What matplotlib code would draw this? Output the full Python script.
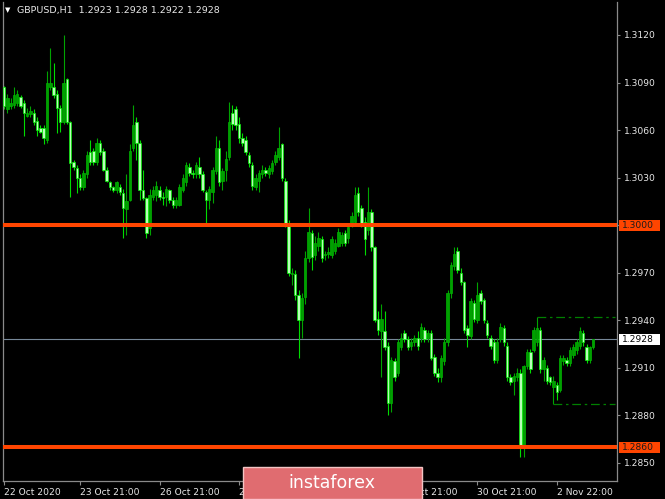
import numpy as np
import matplotlib
matplotlib.use('Agg')
import matplotlib.pyplot as plt
from matplotlib.patches import Rectangle
from matplotlib.transforms import blended_transform_factory

# ---------------- data (GBPUSD H1) ----------------
open_ = [1.3087, 1.3073, 1.3075, 1.3076, 1.3077, 1.3081, 1.3077, 1.3069, 1.3070, 1.3071,
         1.3066, 1.3061, 1.3061, 1.3054, 1.3087, 1.3087, 1.3083, 1.3074, 1.3065, 1.3092,
         1.3065, 1.3040, 1.3036, 1.3030, 1.3024, 1.3032, 1.3046, 1.3047, 1.3040, 1.3052,
         1.3047, 1.3035, 1.3027, 1.3024, 1.3022, 1.3024, 1.3020, 1.3010, 1.3016, 1.3049,
         1.3065, 1.3052, 1.3022, 1.3017, 1.2998, 1.3018, 1.3019, 1.3022, 1.3018, 1.3018,
         1.3022, 1.3016, 1.3013, 1.3013, 1.3022, 1.3027, 1.3037, 1.3033, 1.3032, 1.3037,
         1.3032, 1.3021, 1.3016, 1.3021, 1.3034, 1.3049, 1.3028, 1.3035, 1.3043, 1.3071,
         1.3073, 1.3064, 1.3055, 1.3054, 1.3044, 1.3038, 1.3024, 1.3028, 1.3032, 1.3035,
         1.3032, 1.3034, 1.3040, 1.3043, 1.3051, 1.3028, 1.3001, 1.2969, 1.2969, 1.2956,
         1.2940, 1.2955, 1.2979, 1.2995, 1.2981, 1.2987, 1.2991, 1.2981, 1.2982, 1.2981,
         1.2984, 1.2987, 1.2989, 1.2995, 1.2992, 1.3001, 1.3002, 1.3020, 1.3011, 1.3002,
         1.2997, 1.3008, 1.2986, 1.2941, 1.2933, 1.2933, 1.2924, 1.2888, 1.2914, 1.2907,
         1.2923, 1.2932, 1.2928, 1.2924, 1.2926, 1.2929, 1.2929, 1.2934, 1.2929, 1.2932,
         1.2917, 1.2907, 1.2904, 1.2914, 1.2926, 1.2957, 1.2974, 1.2984, 1.2970, 1.2964,
         1.2935, 1.2930, 1.2951, 1.2940, 1.2957, 1.2953, 1.2938, 1.2929, 1.2926, 1.2915,
         1.2928, 1.2935, 1.2924, 1.2904, 1.2902, 1.2904, 1.2907, 1.2860, 1.2911, 1.2920,
         1.2921, 1.2926, 1.2934, 1.2909, 1.2910, 1.2904, 1.2898, 1.2899, 1.2896, 1.2914,
         1.2915, 1.2913, 1.2918, 1.2921, 1.2924, 1.2932, 1.2923, 1.2915, 1.2923]

high = [1.3088, 1.3083, 1.3080, 1.3087, 1.3085, 1.3082, 1.3079, 1.3074, 1.3075, 1.3073,
        1.3068, 1.3063, 1.3063, 1.3097, 1.3112, 1.3102, 1.3085, 1.3076, 1.3120, 1.3093,
        1.3066, 1.3041, 1.3038, 1.3032, 1.3035, 1.3047, 1.3054, 1.3049, 1.3055, 1.3054,
        1.3049, 1.3037, 1.3028, 1.3025, 1.3028, 1.3026, 1.3023, 1.3032, 1.3051, 1.3076,
        1.3068, 1.3054, 1.3035, 1.3018, 1.3023, 1.3025, 1.3028, 1.3025, 1.3021, 1.3025,
        1.3023, 1.3018, 1.3018, 1.3026, 1.3032, 1.3040, 1.3039, 1.3035, 1.3040, 1.3043,
        1.3034, 1.3022, 1.3025, 1.3037, 1.3056, 1.3054, 1.3036, 1.3047, 1.3078, 1.3076,
        1.3075, 1.3068, 1.3058, 1.3056, 1.3046, 1.3040, 1.3032, 1.3035, 1.3038, 1.3037,
        1.3038, 1.3041, 1.3047, 1.3062, 1.3052, 1.3030, 1.3003, 1.2973, 1.2972, 1.2959,
        1.2957, 1.2984, 1.3011, 1.2997, 1.2993, 1.2996, 1.2993, 1.2984, 1.2986, 1.2993,
        1.2991, 1.2998, 1.2996, 1.2997, 1.3001, 1.3008, 1.3024, 1.3024, 1.3013, 1.3005,
        1.3024, 1.3010, 1.2987, 1.2946, 1.2950, 1.2946, 1.2926, 1.2917, 1.2916, 1.2928,
        1.2932, 1.2934, 1.2930, 1.2929, 1.2931, 1.2933, 1.2938, 1.2936, 1.2934, 1.2934,
        1.2919, 1.2910, 1.2918, 1.2929, 1.2959, 1.2977, 1.2986, 1.2986, 1.2973, 1.2965,
        1.2937, 1.2954, 1.2953, 1.2964, 1.2959, 1.2954, 1.2940, 1.2931, 1.2928, 1.2929,
        1.2938, 1.2937, 1.2926, 1.2906, 1.2907, 1.2910, 1.2909, 1.2912, 1.2922, 1.2922,
        1.2936, 1.2942, 1.2936, 1.2917, 1.2912, 1.2905, 1.2905, 1.2901, 1.2918, 1.2918,
        1.2917, 1.2923, 1.2925, 1.2928, 1.2936, 1.2934, 1.2925, 1.2924, 1.2928]

low = [1.3073, 1.3071, 1.3073, 1.3074, 1.3075, 1.3074, 1.3056, 1.3068, 1.3068, 1.3063,
       1.3056, 1.3058, 1.3051, 1.3052, 1.3085, 1.3080, 1.3058, 1.3059, 1.3064, 1.3064,
       1.3018, 1.3035, 1.3020, 1.3022, 1.3022, 1.3030, 1.3038, 1.3038, 1.3038, 1.3044,
       1.3034, 1.3027, 1.3022, 1.3021, 1.3020, 1.3019, 1.2992, 1.2994, 1.3015, 1.3047,
       1.3041, 1.3016, 1.3016, 1.2992, 1.2994, 1.3016, 1.3015, 1.3016, 1.3013, 1.3012,
       1.3014, 1.3011, 1.3011, 1.3012, 1.3021, 1.3025, 1.3031, 1.3030, 1.3030, 1.3030,
       1.3021, 1.3001, 1.3010, 1.3014, 1.3032, 1.3025, 1.3022, 1.3028, 1.3041, 1.3060,
       1.3060, 1.3052, 1.3050, 1.3044, 1.3037, 1.3022, 1.3022, 1.3021, 1.3030, 1.3031,
       1.3030, 1.3032, 1.3038, 1.3041, 1.3028, 1.2999, 1.2968, 1.2962, 1.2953, 1.2916,
       1.2929, 1.2950, 1.2977, 1.2972, 1.2978, 1.2984, 1.2977, 1.2978, 1.2979, 1.2979,
       1.2982, 1.2986, 1.2987, 1.2987, 1.2989, 1.2999, 1.3001, 1.3006, 1.2999, 1.2981,
       1.2994, 1.2984, 1.2939, 1.2931, 1.2904, 1.2921, 1.2880, 1.2882, 1.2902, 1.2905,
       1.2921, 1.2926, 1.2921, 1.2921, 1.2924, 1.2921, 1.2926, 1.2926, 1.2926, 1.2915,
       1.2905, 1.2901, 1.2901, 1.2912, 1.2924, 1.2954, 1.2972, 1.2970, 1.2962, 1.2932,
       1.2923, 1.2928, 1.2939, 1.2938, 1.2950, 1.2938, 1.2929, 1.2922, 1.2913, 1.2913,
       1.2926, 1.2924, 1.2902, 1.2899, 1.2893, 1.2902, 1.2854, 1.2854, 1.2909, 1.2907,
       1.2920, 1.2924, 1.2907, 1.2902, 1.2900, 1.2899, 1.2887, 1.2890, 1.2895, 1.2912,
       1.2911, 1.2911, 1.2916, 1.2919, 1.2922, 1.2924, 1.2913, 1.2913, 1.2922]

close = [1.3075, 1.3080, 1.3077, 1.3082, 1.3083, 1.3075, 1.3071, 1.3071, 1.3072, 1.3065,
         1.3060, 1.3059, 1.3055, 1.3090, 1.3090, 1.3082, 1.3074, 1.3065, 1.3090, 1.3065,
         1.3039, 1.3037, 1.3030, 1.3024, 1.3033, 1.3044, 1.3040, 1.3040, 1.3052, 1.3046,
         1.3035, 1.3028, 1.3024, 1.3022, 1.3027, 1.3021, 1.3011, 1.3015, 1.3047, 1.3063,
         1.3052, 1.3022, 1.3017, 1.2995, 1.3019, 1.3022, 1.3025, 1.3018, 1.3017, 1.3023,
         1.3016, 1.3013, 1.3016, 1.3024, 1.3030, 1.3038, 1.3033, 1.3032, 1.3038, 1.3032,
         1.3022, 1.3016, 1.3023, 1.3035, 1.3049, 1.3027, 1.3034, 1.3042, 1.3065, 1.3064,
         1.3063, 1.3055, 1.3052, 1.3046, 1.3039, 1.3025, 1.3030, 1.3033, 1.3035, 1.3033,
         1.3036, 1.3039, 1.3044, 1.3049, 1.3030, 1.3001, 1.2970, 1.2970, 1.2956, 1.2940,
         1.2954, 1.2979, 1.2996, 1.2980, 1.2989, 1.2992, 1.2979, 1.2982, 1.2983, 1.2991,
         1.2989, 1.2996, 1.2994, 1.2989, 1.2999, 1.3006, 1.3019, 1.3008, 1.3001, 1.2991,
         1.3008, 1.2986, 1.2940, 1.2934, 1.2941, 1.2923, 1.2888, 1.2915, 1.2904, 1.2926,
         1.2929, 1.2928, 1.2923, 1.2926, 1.2929, 1.2924, 1.2936, 1.2928, 1.2932, 1.2916,
         1.2907, 1.2904, 1.2916, 1.2926, 1.2957, 1.2975, 1.2982, 1.2972, 1.2964, 1.2934,
         1.2931, 1.2952, 1.2941, 1.2956, 1.2952, 1.2940, 1.2931, 1.2924, 1.2915, 1.2926,
         1.2936, 1.2926, 1.2904, 1.2901, 1.2905, 1.2907, 1.2860, 1.2911, 1.2920, 1.2909,
         1.2934, 1.2935, 1.2909, 1.2915, 1.2902, 1.2901, 1.2902, 1.2895, 1.2916, 1.2916,
         1.2913, 1.2921, 1.2923, 1.2926, 1.2933, 1.2926, 1.2915, 1.2923, 1.2928]

title_text = "GBPUSD,H1  1.2923 1.2928 1.2922 1.2928"
level_lines = [1.3000, 1.2860]
bid_price = 1.2928
range_high, range_high_start = 1.2942, 161
range_low, range_low_start = 1.2887, 166
ytick_values = [1.2850, 1.2880, 1.2910, 1.2940, 1.2970, 1.3000, 1.3030, 1.3060, 1.3090, 1.3120]
xtick_bars = [0, 23, 47, 71, 95, 119, 143, 167]
xtick_labels = ["22 Oct 2020", "23 Oct 21:00", "26 Oct 21:00", "27 Oct 21:00",
                "28 Oct 21:00", "29 Oct 21:00", "30 Oct 21:00", "2 Nov 22:00"]
watermark = "instaforex"

# ---------------- figure ----------------
W, H = 665, 499
fig = plt.figure(figsize=(W / 100, H / 100), dpi=100, facecolor='black')
L, R, T, B = 3, 617, 2, 481
ax = fig.add_axes([L / W, 1 - B / H, (R - L) / W, (B - T) / H])
ax.set_facecolor('black')
ymin, ymax = 1.28386, 1.31408
ax.set_xlim(-0.3, 185.2)
ax.set_ylim(ymin, ymax)
px = (ymax - ymin) / (B - T)

o = np.array(open_); c = np.array(close); h = np.array(high); l = np.array(low)
x = np.arange(len(c))
bull = c >= o
wick_cols = np.where(bull, '#00a400', '#00dc00')
ax.vlines(x, l, h, colors=wick_cols, lw=0.8, zorder=2)
bottoms = np.minimum(o, c)
heights = np.maximum(np.abs(c - o), 0.6 * px)
ax.bar(x[bull], heights[bull], bottom=bottoms[bull], width=0.74,
       color='#00a000', edgecolor='#00b400', linewidth=0.5, zorder=3)
ax.bar(x[~bull], heights[~bull], bottom=bottoms[~bull], width=0.74,
       color='#b8ffb8', edgecolor='#00ee00', linewidth=0.5, zorder=3)

# lines
ax.axhline(bid_price, color='#778899', lw=0.8, zorder=1)
for lv in level_lines:
    ax.axhline(lv, color='#ff4500', lw=2.9, zorder=6)
ax.hlines(range_high, range_high_start, 184.6, colors='#008000', lw=0.9,
          linestyles=(0, (7, 3, 2, 3)), zorder=4)
ax.hlines(range_low, range_low_start, 184.6, colors='#008000', lw=0.9,
          linestyles=(0, (7, 3, 2, 3)), zorder=4)

# spines
ax.spines['top'].set_visible(False)
for s in ['left', 'right', 'bottom']:
    ax.spines[s].set_color('#8a8a8a')
    ax.spines[s].set_linewidth(0.9)

# y axis on right (the 1.3000 value is shown by its level box instead)
ax.yaxis.tick_right()
ax.set_yticks(ytick_values)
ax.set_yticklabels(['' if any(abs(v - lv) < 1e-9 for lv in level_lines) else f'{v:.4f}'
                    for v in ytick_values])
ax.tick_params(axis='y', colors='#8a8a8a', labelcolor='#e8e8e8', labelsize=6.6,
               length=2, pad=3, direction='out')

# x axis
ax.set_xticks(xtick_bars)
ax.set_xticklabels(xtick_labels, ha='left')
ax.tick_params(axis='x', colors='#8a8a8a', labelcolor='#e8e8e8', labelsize=6.6,
               length=3, pad=2, direction='out')

# price boxes on the axis
trans = blended_transform_factory(fig.transFigure, ax.transData)
def price_box(price, fc, tc):
    hh = 5.5 * px
    ax.add_patch(Rectangle((619 / W, price - hh), 41 / W, 2 * hh, transform=trans,
                           facecolor=fc, edgecolor='none', clip_on=False, zorder=10))
    ax.text(622 / W, price, f'{price:.4f}', transform=trans, color=tc, fontsize=6.6,
            va='center', ha='left', zorder=11, clip_on=False)

for lv in level_lines:
    price_box(lv, '#ff4500', '#1a1a1a')
price_box(bid_price, 'white', 'black')

# title
fig.text(5 / W, 1 - 10 / H, '\u25BC', color='white', fontsize=5, va='center', ha='left')
fig.text(17 / W, 1 - 10 / H, title_text, color='#e8e8e8', fontsize=6.8, va='center', ha='left')

# watermark
fig.add_artist(Rectangle((243 / W, 0), (422 - 243) / W, (499 - 467) / H, transform=fig.transFigure,
                         facecolor='#e06c70', edgecolor='#f2c4c4', lw=1, zorder=20))
fig.text(332 / W, 1 - 483 / H, watermark, color='white', fontsize=12.5, ha='center',
         va='center', zorder=21)

fig.savefig('out.png', dpi=100, facecolor='black')
